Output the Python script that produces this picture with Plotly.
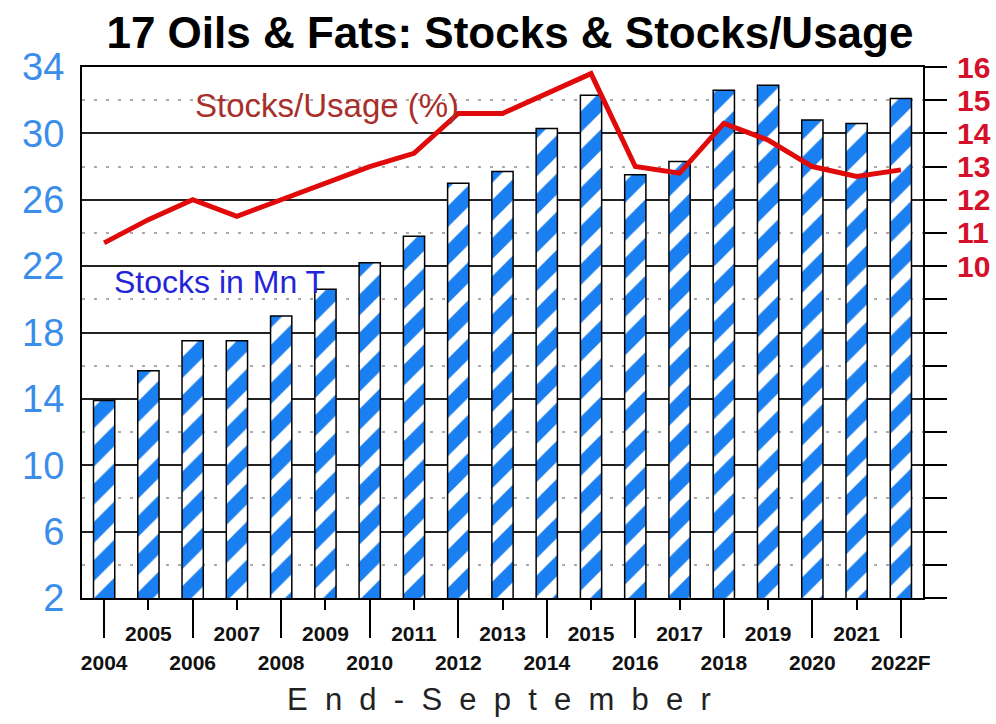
import plotly.graph_objects as go

years = ["2004", "2005", "2006", "2007", "2008", "2009", "2010", "2011", "2012", "2013",
         "2014", "2015", "2016", "2017", "2018", "2019", "2020", "2021", "2022F"]
stocks = [13.9, 15.7, 17.5, 17.5, 19.0, 20.6, 22.2, 23.8, 27.0, 27.7,
          30.3, 32.3, 27.5, 28.3, 32.6, 32.9, 30.8, 30.6, 32.1]
stocks_usage = [10.7, 11.4, 12.0, 11.5, 12.0, 12.5, 13.0, 13.4, 14.6, 14.6,
                15.2, 15.8, 13.0, 12.8, 14.3, 13.8, 13.0, 12.7, 12.9]

left_ticks = list(range(2, 35, 4))
right_ticks = list(range(0, 17))
right_text = [f"<b>{v}</b>" if v >= 10 else "" for v in right_ticks]

FONT = "Liberation Sans, Arial, sans-serif"
BLUE = "#1a7ff0"
n = len(years)

fig = go.Figure()

fig.add_trace(go.Bar(
    x=years, y=stocks, width=0.48,
    marker=dict(color=BLUE, line=dict(color="black", width=1.5),
                pattern=dict(shape="/", fgcolor="white", bgcolor=BLUE, fgopacity=1,
                             size=27, solidity=0.45)),
    showlegend=False,
))

fig.add_trace(go.Scatter(
    x=years, y=stocks_usage, yaxis="y2", mode="lines",
    line=dict(color="#e00a0a", width=5),
    showlegend=False,
))

# empty trace so the second x axis (long ticks, lower row of labels) is drawn
fig.add_trace(go.Scatter(
    x=list(range(n)), y=stocks, xaxis="x2", mode="none",
    hoverinfo="skip", showlegend=False,
))

fig.update_layout(
    width=996, height=724,
    margin=dict(l=82, r=73, t=67, b=126),
    paper_bgcolor="white", plot_bgcolor="white",
    font=dict(family=FONT, color="black"),
    title=dict(text="<b>17 Oils & Fats: Stocks & Stocks/Usage</b>",
               x=0.512, xanchor="center", y=0.955, yanchor="middle",
               font=dict(size=44, color="black")),
    xaxis=dict(
        type="category", range=[-0.5, n - 0.5],
        tickvals=years[1::2], ticktext=[f"<b>{y}</b>" for y in years[1::2]],
        ticks="outside", ticklen=10, tickwidth=1.5, tickcolor="black",
        tickfont=dict(size=21, color="#111", family=FONT), ticklabelstandoff=6,
        showline=True, linecolor="black", linewidth=2, mirror=True, showgrid=False,
        automargin=False,
    ),
    xaxis2=dict(
        overlaying="x", anchor="y", side="bottom", range=[-0.5, n - 0.5],
        tickvals=list(range(0, n, 2)), ticktext=[f"<b>{y}</b>" for y in years[::2]],
        ticks="outside", ticklen=39, tickwidth=1.5, tickcolor="black",
        tickfont=dict(size=21, color="#111", family=FONT), ticklabelstandoff=7,
        showgrid=False, zeroline=False, automargin=False,
    ),
    yaxis=dict(
        range=[2, 34], tickvals=left_ticks, ticks="",
        tickfont=dict(size=38, color="#3a8eea", family=FONT), ticklabelstandoff=8,
        showgrid=True, gridcolor="#222", gridwidth=1.5,
        minor=dict(dtick=2, tick0=0, showgrid=True, gridcolor="#aaa",
                   griddash="3px,9px", gridwidth=1.5),
        showline=True, linecolor="black", linewidth=2, mirror=True, zeroline=False,
        automargin=False,
    ),
    yaxis2=dict(
        overlaying="y", side="right", range=[0, 16],
        tickvals=right_ticks, ticktext=right_text,
        ticks="outside", ticklen=22, tickwidth=2, tickcolor="black",
        tickfont=dict(size=30, color="#d4102a", family=FONT), ticklabelstandoff=4,
        showgrid=False, zeroline=False,
        showline=True, linecolor="black", linewidth=2, automargin=False,
    ),
    annotations=[
        dict(text="Stocks/Usage (%)", xref="paper", yref="paper", x=0.291, y=0.928,
             xanchor="center", yanchor="middle",
             showarrow=False, font=dict(size=33, color="#a8302c", family=FONT)),
        dict(text="Stocks in Mn T", xref="paper", yref="paper", x=0.164, y=0.595,
             xanchor="center", yanchor="middle",
             showarrow=False, font=dict(size=32, color="#2424d8", family=FONT)),
        dict(text="\u00a0\u00a0".join("End-September"),
             xref="paper", yref="paper", x=0.496, y=-0.192, xanchor="center", yanchor="middle",
             showarrow=False, font=dict(size=31, color="#222", family=FONT)),
    ],
)

# drop the page's default body margin so the figure fills the window exactly
fig.write_html("out.html", config={"displayModeBar": False},
               post_script="document.body.style.margin='0';document.body.style.overflow='hidden';")
